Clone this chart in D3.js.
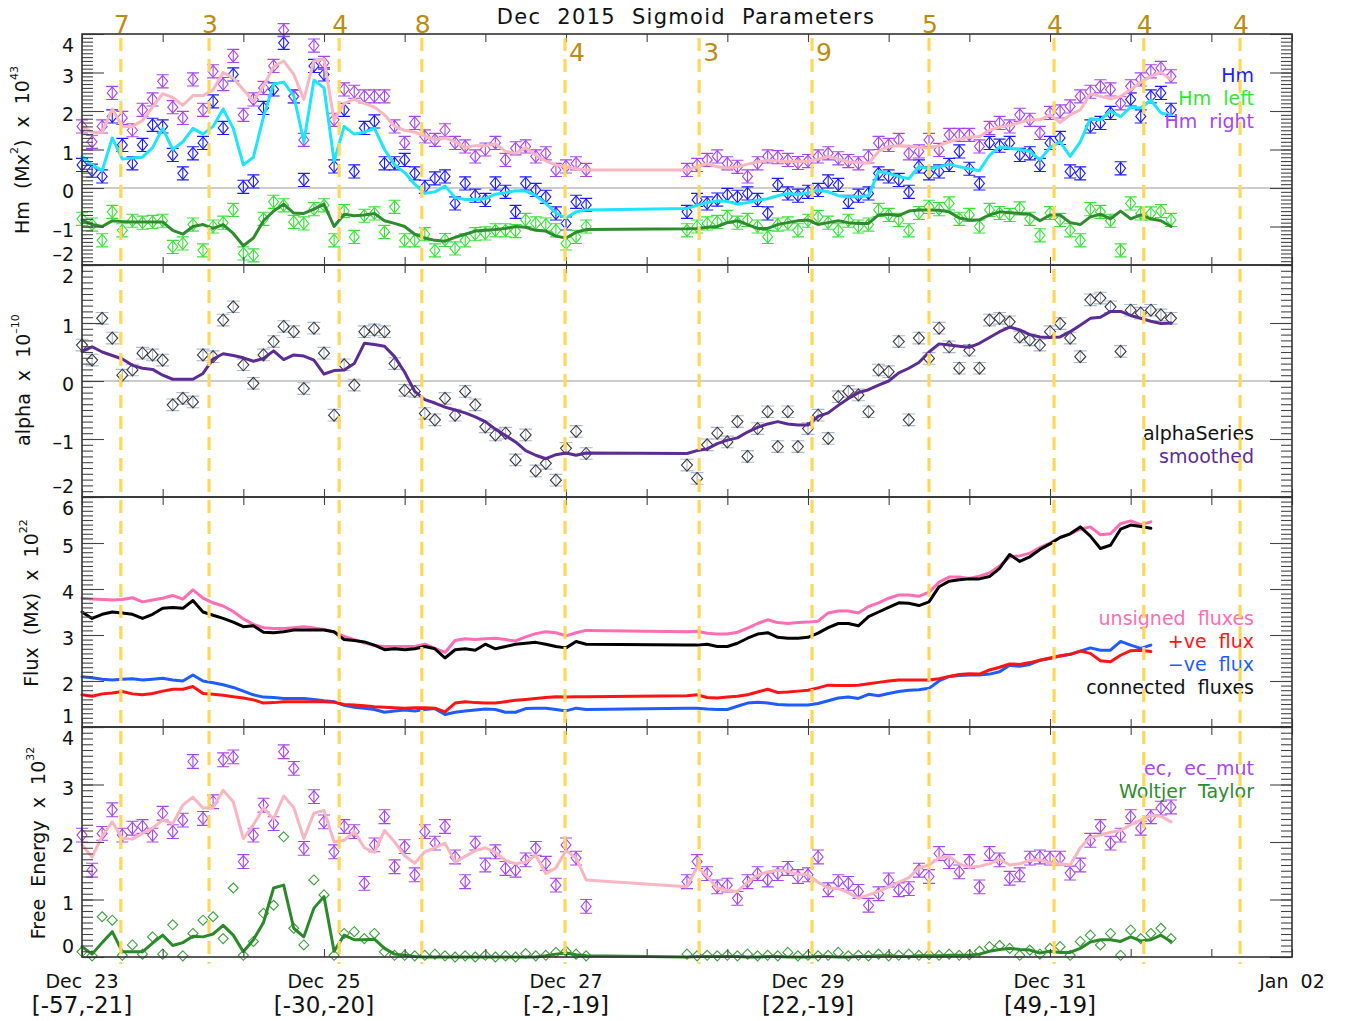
<!DOCTYPE html>
<html><head><meta charset="utf-8">
<script src="https://cdn.jsdelivr.net/npm/d3@7/dist/d3.min.js"></script>
<style>
html,body{margin:0;padding:0;background:#fff;}
svg text{font-family:"DejaVu Sans",sans-serif;}
</style></head>
<body><svg id="chart" width="1353" height="1021"></svg>
<script>
// ---------------- DATA ----------------
// hours since Dec 23 00:00 UT
const timesA = [0,2,4,6,8,10,12,14,16,18,20,22,24,26,28,30,32,34,36,38,40,42,44,46,48,50,52,54,56,58,60,62,64,66,68,70,72,74,76,78,80,82,84,86,88,90,92,94,96,98,100];
const timesB = [120,122,124,126,128,130,132,134,136,138,140,142,144,146,148,150,152,154,156,158,160,162,164,166,168,170,172,174,176,178,180,182,184,186,188,190,192,194,196,198,200,202,204,206,208,210,212,214,216];
const times = timesA.concat(timesB);

// Panel 1: Hm (x 1e43)
const hm = [0.6,0.45,0.3,1.86,1.12,0.64,1.12,1.64,1.6,0.86,0.38,0.9,1.17,2.25,1.56,2.95,0.03,0.17,2.08,2.56,3.77,2.38,0.21,3.17,2.95,0.56,2.03,0.43,1.56,1.73,0.64,0.64,0.73,0.38,0.03,0.25,0.3,-0.4,0.12,-0.2,-0.31,0.12,-0.1,-0.62,0.12,-0.05,-0.23,-0.66,-0.92,-0.36,-0.44,
  -0.62,-0.31,-0.4,-0.3,-0.18,-0.23,-0.14,-0.31,-0.66,0.08,-0.14,-0.2,-0.1,-0.05,0.17,0.08,-0.36,-0.2,-0.14,0.38,0.3,0.21,-0.1,0.56,0.38,0.43,0.6,0.95,0.5,0.12,1.17,1.1,1.17,0.86,0.9,0.6,1.17,1.3,0.43,0.38,1.6,1.69,1.95,0.51,2.3,1.86,2.38,2.47,2.03];
const hmSmooth = [0.82,0.6,0.45,1.3,0.75,0.78,0.8,1.05,1.55,1.0,1.2,1.55,1.4,1.6,2.05,1.55,0.6,0.8,1.85,2.7,2.75,2.4,1.2,2.8,2.6,0.7,1.6,1.4,1.45,1.55,1.0,0.6,0.4,0.1,-0.14,-0.1,0.05,-0.25,-0.3,-0.3,-0.28,-0.16,-0.12,-0.07,-0.08,-0.2,-0.4,-0.65,-0.78,-0.62,-0.57,
  -0.53,-0.45,-0.38,-0.33,-0.35,-0.42,-0.38,-0.32,-0.28,-0.2,-0.14,-0.17,-0.12,-0.06,-0.1,-0.2,-0.23,-0.23,-0.2,0.43,0.38,0.3,0.24,0.56,0.5,0.55,0.62,0.55,0.5,0.45,0.85,1.07,1.03,1.0,0.95,0.73,1.05,1.2,0.82,1.2,1.8,1.77,2.0,1.85,2.1,2.08,2.28,1.95,1.9];
const hmLeft = [-0.8,-0.95,-1.36,-0.62,-1.1,-0.85,-0.9,-0.88,-0.85,-1.53,-1.44,-0.95,-1.62,-1.0,-0.9,-0.57,-1.7,-1.75,-0.8,-0.36,-0.45,-0.88,-0.92,-0.55,-0.45,-1.36,-0.6,-1.27,-0.72,-0.66,-1.14,-0.49,-1.36,-1.36,-1.2,-1.62,-1.35,-1.57,-1.36,-1.2,-1.18,-1.1,-1.1,-1.12,-0.83,-0.92,-0.95,-1.1,-1.44,-1.27,-1.0,
  -1.1,-1.0,-0.92,-0.88,-0.75,-0.9,-0.83,-1.0,-1.27,-0.95,-0.92,-1.1,-0.85,-0.75,-0.9,-1.1,-0.85,-1.0,-0.95,-0.57,-0.7,-0.83,-1.1,-0.65,-0.49,-0.55,-0.4,-0.8,-0.7,-1.0,-0.57,-0.65,-0.7,-0.53,-0.8,-1.23,-0.65,-0.83,-1.1,-1.36,-0.55,-0.62,-0.85,-1.62,-0.4,-0.66,-0.66,-0.6,-0.83];
const hmLeftSmooth = [-0.83,-0.95,-1.0,-0.85,-0.87,-0.88,-0.88,-0.88,-0.88,-1.1,-1.2,-1.0,-0.95,-1.05,-0.95,-1.18,-1.5,-1.3,-0.85,-0.6,-0.42,-0.65,-0.66,-0.55,-0.42,-1.0,-0.68,-0.72,-0.7,-0.66,-0.85,-0.92,-1.0,-1.2,-1.3,-1.36,-1.38,-1.28,-1.2,-1.12,-1.1,-1.08,-1.05,-1.0,-1.02,-1.1,-1.12,-1.25,-1.3,-1.15,-1.08,
  -1.06,-1.05,-1.02,-1.0,-0.9,-0.85,-0.95,-1.05,-1.05,-0.95,-0.9,-0.85,-0.83,-0.95,-0.9,-0.85,-0.9,-0.92,-0.92,-0.7,-0.68,-0.72,-0.6,-0.57,-0.57,-0.58,-0.62,-0.78,-0.83,-0.83,-0.7,-0.62,-0.64,-0.66,-0.68,-0.85,-0.7,-0.7,-0.9,-0.95,-0.75,-0.68,-0.8,-0.6,-0.8,-0.7,-0.8,-0.85,-1.0];
const hmRight = [1.6,1.2,1.6,2.47,1.82,1.5,2.03,2.3,2.77,2.1,1.82,2.82,2.03,3.03,2.7,3.43,1.9,2.3,2.6,3.17,4.1,2.38,1.25,3.7,3.25,1.77,2.56,2.5,2.38,2.38,2.38,1.6,1.17,1.69,1.34,1.25,1.5,1.17,1.08,0.82,1.0,1.17,0.73,1.03,1.08,0.82,0.9,0.47,0.56,0.64,0.47,
  0.47,0.6,0.73,0.82,0.64,0.55,0.3,0.64,0.82,0.8,0.73,0.65,0.7,0.82,0.9,0.77,0.7,0.64,0.82,1.17,1.12,1.25,0.9,0.95,1.25,0.99,1.38,1.38,1.38,1.08,1.56,1.69,1.6,1.9,1.77,1.43,1.95,1.99,2.12,2.38,2.5,2.64,2.56,2.2,2.64,2.82,3.03,3.12,2.9];
const hmRightSmooth = [1.6,1.45,1.45,2.05,1.6,1.6,1.75,2.1,2.45,2.35,2.15,2.4,2.4,2.55,3.0,2.85,2.55,2.25,2.65,3.15,3.3,2.95,2.3,3.3,3.35,1.75,2.2,2.3,2.2,2.1,1.9,1.6,1.5,1.45,1.35,1.25,1.3,1.2,1.05,1.1,1.1,1.15,0.95,0.9,1.05,0.85,0.7,0.6,0.55,0.5,0.47,
  0.47,0.55,0.63,0.55,0.52,0.55,0.62,0.68,0.72,0.7,0.69,0.69,0.69,0.75,0.82,0.75,0.68,0.66,0.64,0.95,1.08,1.1,1.09,1.06,1.03,1.1,1.2,1.27,1.32,1.34,1.5,1.58,1.62,1.7,1.77,1.77,1.9,1.7,1.9,2.03,2.45,2.38,2.32,2.38,2.55,2.75,2.9,3.0,2.82];

// Panel 2: alpha (x 1e-10)
const alphaSeries = [0.62,0.36,1.08,0.74,0.1,0.19,0.48,0.45,0.36,-0.41,-0.3,-0.36,0.45,0.42,1.05,1.28,0.28,-0.04,0.45,0.68,0.94,0.85,-0.13,0.91,0.48,-0.59,0.28,-0.07,0.85,0.88,0.85,0.3,-0.16,-0.18,-0.56,-0.67,-0.3,-0.59,-0.18,-0.41,-0.79,-0.93,-0.9,-1.36,-0.93,-1.55,-1.42,-1.71,-1.16,-0.87,-1.25,
  -1.45,-1.68,-1.1,-0.9,-1.05,-0.7,-1.3,-0.82,-0.53,-1.13,-0.53,-1.13,-0.82,-0.59,-0.99,-0.27,-0.18,-0.24,-0.53,0.19,0.16,0.68,-0.67,0.74,0.39,0.91,0.59,0.22,0.53,0.22,1.05,1.08,1.02,0.76,0.71,0.62,0.85,0.99,0.74,0.42,1.4,1.43,1.28,0.51,1.22,1.17,1.22,1.14,1.08];
const alphaSmooth = [0.51,0.59,0.5,0.44,0.38,0.27,0.22,0.2,0.1,0.03,0.03,0.03,0.13,0.38,0.47,0.44,0.4,0.34,0.39,0.52,0.37,0.45,0.43,0.36,0.12,0.18,0.19,0.3,0.65,0.63,0.6,0.42,0.15,-0.18,-0.32,-0.38,-0.45,-0.5,-0.55,-0.62,-0.7,-0.83,-0.94,-1.05,-1.2,-1.28,-1.34,-1.27,-1.24,-1.28,-1.24,
  -1.25,-1.2,-1.17,-1.08,-1.02,-0.98,-0.88,-0.8,-0.74,-0.7,-0.74,-0.76,-0.76,-0.61,-0.55,-0.42,-0.3,-0.2,-0.15,-0.07,0.0,0.14,0.22,0.32,0.5,0.64,0.62,0.6,0.58,0.65,0.75,0.85,0.93,0.88,0.8,0.76,0.75,0.76,0.85,0.96,1.08,1.1,1.2,1.2,1.13,1.08,1.03,0.99,1.0];

// Panel 3: fluxes (x 1e22 Mx)
const unsignedFlux = [3.8,3.78,3.77,3.76,3.77,3.81,3.72,3.76,3.8,3.86,3.78,3.98,3.8,3.7,3.63,3.51,3.35,3.23,3.16,3.14,3.14,3.16,3.18,3.15,3.12,3.06,2.97,2.9,2.83,2.77,2.75,2.75,2.75,2.75,2.8,2.71,2.62,2.88,2.92,2.9,2.92,2.93,2.9,2.87,2.96,3.03,3.07,3.05,2.98,3.05,3.1,
  3.07,3.08,3.04,3.02,3.02,3.06,3.15,3.25,3.33,3.27,3.25,3.27,3.28,3.3,3.48,3.52,3.52,3.48,3.62,3.7,3.8,3.87,3.87,3.84,3.93,4.15,4.26,4.26,4.23,4.28,4.35,4.5,4.7,4.72,4.78,4.9,5.0,5.12,5.2,5.3,5.35,5.18,5.2,5.42,5.48,5.4,5.46,null,null];
const posFlux = [1.7,1.67,1.72,1.74,1.77,1.72,1.7,1.73,1.78,1.82,1.82,1.88,1.73,1.71,1.69,1.66,1.63,1.59,1.52,1.53,1.55,1.55,1.55,1.55,1.55,1.54,1.49,1.48,1.46,1.44,1.43,1.42,1.41,1.42,1.42,1.41,1.33,1.52,1.55,1.53,1.52,1.52,1.55,1.58,1.6,1.62,1.64,1.66,1.65,1.66,1.66,
  1.68,1.7,1.64,1.63,1.65,1.67,1.7,1.76,1.82,1.75,1.76,1.78,1.8,1.85,1.91,1.9,1.9,1.91,1.94,1.97,2.0,2.02,2.02,2.02,2.02,2.05,2.1,2.14,2.16,2.15,2.24,2.3,2.37,2.36,2.4,2.45,2.5,2.55,2.58,2.65,2.6,2.44,2.42,2.56,2.66,2.67,2.64,null,null];
const negFlux = [2.09,2.07,2.04,2.02,2.04,2.05,2.02,2.04,2.06,2.02,2.0,2.13,2.0,1.96,1.92,1.86,1.78,1.7,1.65,1.64,1.62,1.62,1.62,1.6,1.57,1.55,1.47,1.43,1.41,1.38,1.32,1.35,1.37,1.35,1.38,1.4,1.27,1.32,1.35,1.37,1.39,1.38,1.32,1.32,1.4,1.41,1.41,1.38,1.35,1.41,1.38,
  1.41,1.41,1.39,1.38,1.38,1.45,1.52,1.54,1.52,1.49,1.48,1.48,1.48,1.51,1.57,1.63,1.65,1.62,1.71,1.68,1.73,1.77,1.8,1.81,1.84,2.0,2.1,2.12,2.13,2.13,2.15,2.2,2.34,2.32,2.36,2.45,2.49,2.54,2.58,2.65,2.72,2.67,2.67,2.86,2.78,2.71,2.78,null,null];
const connectedFlux = [3.5,3.36,3.45,3.5,3.48,3.45,3.36,3.45,3.58,3.6,3.58,3.75,3.5,3.43,3.36,3.28,3.18,3.2,3.06,3.05,3.07,3.11,3.11,3.11,3.11,3.07,2.9,2.88,2.85,2.78,2.68,2.7,2.68,2.7,2.75,2.7,2.5,2.68,2.7,2.67,2.8,2.7,2.75,2.8,2.82,2.84,2.8,2.75,2.72,2.86,2.8,
  2.78,2.78,2.8,2.75,2.75,2.82,2.93,3.02,3.05,2.95,2.93,2.93,2.95,3.04,3.16,3.25,3.25,3.2,3.4,3.5,3.6,3.7,3.69,3.64,3.72,4.05,4.17,4.2,4.22,4.22,4.27,4.45,4.75,4.6,4.7,4.86,4.98,5.12,5.2,5.35,5.15,4.88,4.95,5.3,5.39,5.36,5.32,null,null];

// Panel 4: free energy (x 1e32)
const ecMut = [2.12,1.51,2.15,2.56,2.12,2.24,2.27,2.12,2.5,2.18,2.38,3.4,2.41,2.7,3.43,3.48,1.66,2.12,2.64,2.32,3.57,3.28,1.89,2.79,2.35,1.83,2.27,2.18,1.28,1.95,2.44,1.57,1.92,1.43,2.18,1.98,2.27,1.74,1.31,1.98,1.6,1.83,1.54,1.51,1.69,1.89,1.63,1.25,1.95,1.72,0.88,
  1.31,1.66,1.45,1.22,1.25,1.02,1.31,1.45,1.34,1.45,1.54,1.4,1.43,1.74,1.17,1.31,1.28,1.14,0.9,1.1,1.34,1.17,1.19,1.51,1.4,1.8,1.66,1.48,1.66,1.22,1.8,1.69,1.37,1.43,1.72,1.74,1.72,1.72,1.46,1.6,2.03,2.27,1.98,2.12,2.44,2.24,2.44,2.59,2.61];
const ecSmooth = [1.95,1.74,2.1,2.35,2.06,2.05,2.15,2.24,2.38,2.32,2.64,2.78,2.59,2.6,2.9,2.7,2.06,2.3,2.59,2.4,2.8,2.6,2.06,2.5,2.55,2.0,2.03,2.18,1.9,1.82,2.2,2.0,1.76,1.63,1.83,1.9,1.98,1.65,1.75,1.85,1.9,1.82,1.68,1.62,1.65,1.77,1.45,1.55,1.85,1.72,1.34,
  1.22,1.57,1.4,1.2,1.16,1.14,1.3,1.42,1.48,1.51,1.49,1.44,1.43,1.3,1.2,1.19,1.12,1.02,1.08,1.14,1.22,1.3,1.38,1.55,1.6,1.72,1.75,1.62,1.56,1.58,1.62,1.7,1.6,1.62,1.68,1.69,1.63,1.62,1.6,1.9,2.08,2.12,2.17,2.2,2.3,2.38,2.46,2.45,2.35];
const woltjerTaylor = [0.09,0.02,0.7,0.64,0.03,0.21,0.05,0.35,0.05,0.56,0.02,0.41,0.64,0.7,0.32,1.2,0.03,0.27,0.76,0.9,2.09,0.5,0.21,1.34,1.08,0.03,0.41,0.44,0.32,0.41,0.09,0.03,0.03,0.02,0.03,0.05,0.02,0,0.02,0,0.03,0,0.02,0,0.06,0.02,0.03,0.08,0.1,0.05,0.02,
  0.05,0.02,0.03,0.02,0.03,0.02,0.05,0.02,0.03,0.02,0.08,0.02,0.03,0.02,0.03,0.08,0.02,0.03,0.02,0.05,0.02,0.03,0.05,0.03,0.04,0.03,0.05,0.03,0.04,0.1,0.18,0.2,0.15,0.03,0.12,0.05,0.15,0.18,0.03,0.27,0.38,0.21,0.41,0.03,0.47,0.32,0.41,0.5,0.32];
const woltjerTaylorSmooth = [0.18,0.05,0.25,0.44,0.09,0.09,0.09,0.24,0.38,0.2,0.25,0.36,0.35,0.4,0.55,0.38,0.09,0.3,0.6,1.2,1.25,0.5,0.35,0.85,1.05,0.1,0.38,0.3,0.3,0.31,0.15,0.05,0.03,0.01,0,0,0,0,0,0,0,0,0,0,0,0,0.02,0.05,0.07,0.04,0.02,
  0,0.01,0.01,0.01,0.01,0.01,0,0,0.01,0.01,0,0,0,0.01,0.01,0,0,0.01,0.01,0.02,0.02,0.01,0.01,0.02,0.02,0.02,0.03,0.03,0.03,0.05,0.1,0.13,0.15,0.13,0.12,0.07,0.1,0.08,0.08,0.15,0.26,0.3,0.3,0.27,0.35,0.28,0.3,0.38,0.27];

// Error bar half-widths
const hmErr = 0.17, alphaErr = 0.1, ecErr = 0.12;

// Flare markers (hours since Dec 23 00:00) and counts
const flareHours  = [7.7,25.2,51,67.4,95.8,122.4,144.8,168,192.8,210.6,229.7];
const flareLabels = ["7","3","4","8","4","3","9","5","4","4","4"];
const flareInside = [false,false,false,false,true,true,true,false,false,false,false];

// Axis labels
const dayTicks   = [0,48,96,144,192,240];
const dayLabels  = ["Dec  23","Dec  25","Dec  27","Dec  29","Dec  31","Jan  02"];
const posLabels  = ["[-57,-21]","[-30,-20]","[-2,-19]","[22,-19]","[49,-19]",""];
const minorHours = [0,16,32,48,64,80,96,112,128,144,160,176,192,208,224,240];

// ---------------- DRAW ----------------
const svg = d3.select("#chart");
const X0 = 82, X1 = 1292;
const x = d3.scaleLinear().domain([0,240]).range([X0,X1]);

const panels = [
  {top:34,  bottom:265, dom:[-2,4], ticks:[-2,-1,0,1,2,3,4], zero:true},
  {top:265, bottom:497, dom:[-2,2], ticks:[-2,-1,0,1,2], zero:true},
  {top:497, bottom:727, dom:[1,6],  ticks:[1,2,3,4,5,6]},
  {top:727, bottom:957, dom:[0,4],  ticks:[0,1,2,3,4]}
];
panels.forEach(p => p.y = d3.scaleLinear().domain(p.dom).range([p.bottom,p.top]));

const pts = vals => times.map((t,i)=>({t, v: vals[i]})).filter(d => d.v !== null && d.v !== undefined);

const gData = svg.append("g");
const gAxes = svg.append("g");
const gLegend = svg.append("g");
const gDash = svg.append("g");
const gText = svg.append("g");

function diamond(cx, cy, w, h){ return `M${cx},${cy-h}L${cx+w},${cy}L${cx},${cy+h}L${cx-w},${cy}Z`; }

function drawMarkers(p, vals, color, o){
  const data = pts(vals);
  const g = gData.append("g").attr("fill","none");
  if (o.err){
    const cw = o.capW;
    g.selectAll("path.e").data(data).join("path").attr("class","e")
      .attr("stroke", o.errColor || color).attr("stroke-width",1.1)
      .attr("d", d => {
        const cx = x(d.t), y1 = p.y(d.v - o.err), y2 = p.y(d.v + o.err);
        return `M${cx},${y1}V${y2}M${cx-cw/2},${y1}h${cw}M${cx-cw/2},${y2}h${cw}`;
      });
  }
  g.selectAll("path.m").data(data).join("path").attr("class","m")
    .attr("stroke", color).attr("stroke-width", o.sw || 1.1)
    .attr("d", d => diamond(x(d.t), p.y(d.v), o.w, o.h));
}
function drawLine(p, vals, color, w){
  gData.append("path").datum(pts(vals))
    .attr("fill","none").attr("stroke",color).attr("stroke-width",w)
    .attr("stroke-linejoin","round").attr("stroke-linecap","round")
    .attr("d", d3.line().x(d => x(d.t)).y(d => p.y(d.v)));
}

// zero lines
panels.forEach(p => {
  if (p.zero) gData.append("line").attr("x1",X0).attr("x2",X1)
    .attr("y1",p.y(0)).attr("y2",p.y(0)).attr("stroke","#999").attr("stroke-width",1.2);
});

// Panel 1
const P1 = panels[0];
drawMarkers(P1, hm, "#1c1cff", {w:5, h:6, err:hmErr, capW:12});
drawMarkers(P1, hmLeft, "#3ae03a", {w:5, h:6, err:hmErr, capW:12});
drawMarkers(P1, hmRight, "#a646f0", {w:5, h:6, err:hmErr, capW:12});
drawLine(P1, hmLeftSmooth, "#2e8b2e", 3);
drawLine(P1, hmSmooth, "#1fe4ff", 3);
drawLine(P1, hmRightSmooth, "#f8b6c0", 3);

// Panel 2
const P2 = panels[1];
drawMarkers(P2, alphaSeries, "#3a3a3a", {w:5.5, h:6, err:alphaErr, capW:13, errColor:"#a9b9cf"});
drawLine(P2, alphaSmooth, "#5b2c94", 3);

// Panel 3
const P3 = panels[2];
drawLine(P3, unsignedFlux, "#ff6db4", 3);
drawLine(P3, connectedFlux, "#000000", 3);
drawLine(P3, negFlux, "#1f5cff", 3);
drawLine(P3, posFlux, "#ff1414", 3);

// Panel 4
const P4 = panels[3];
drawMarkers(P4, ecMut, "#a646f0", {w:5, h:6, err:ecErr, capW:12});
drawLine(P4, ecSmooth, "#f8b6c0", 3);
drawMarkers(P4, woltjerTaylor, "#3f9e3f", {w:5, h:5});
drawLine(P4, woltjerTaylorSmooth, "#2a8a2a", 3);

// Axes: frame, inward ticks on all sides
panels.forEach((p,i) => {
  const minorVals = d3.range(p.dom[0]*10, p.dom[1]*10+1).map(v => v/10);
  const ax = [
    {gen: d3.axisRight(p.y).tickValues(minorVals).tickSize(11), tr:`translate(${X0},0)`},
    {gen: d3.axisRight(p.y).tickValues(p.ticks).tickSize(22), tr:`translate(${X0},0)`},
    {gen: d3.axisLeft(p.y).tickValues(minorVals).tickSize(11), tr:`translate(${X1},0)`},
    {gen: d3.axisLeft(p.y).tickValues(p.ticks).tickSize(22), tr:`translate(${X1},0)`},
    {gen: d3.axisBottom(x).tickValues(minorHours).tickSize(8), tr:`translate(0,${p.top})`},
    {gen: d3.axisTop(x).tickValues(minorHours).tickSize(8), tr:`translate(0,${p.bottom})`}
  ];
  ax.forEach(a => {
    const g = gAxes.append("g").attr("transform", a.tr).call(a.gen.tickFormat(""));
    g.select(".domain").remove();
    g.selectAll(".tick line").attr("stroke","#444").attr("stroke-width",1.1);
  });
  gAxes.append("rect").attr("x",X0).attr("y",p.top).attr("width",X1-X0).attr("height",p.bottom-p.top)
    .attr("fill","none").attr("stroke","#333").attr("stroke-width",1.6);
  // y tick labels
  p.ticks.forEach((v,k) => {
    let off = 3;
    if (k === p.ticks.length-1) off = 11;
    if (k === 0) off = -11;
    gText.append("text").attr("x",74).attr("y",p.y(v)+off)
      .attr("text-anchor","end").attr("dominant-baseline","central")
      .attr("font-size",19).attr("fill","#111")
      .text(v < 0 ? "–" + Math.abs(v) : String(v));
  });
});

// Y-axis titles
function yTitle(cx, cy, parts){
  const t = gText.append("text").attr("transform",`translate(${cx},${cy}) rotate(-90)`)
    .attr("text-anchor","middle").attr("dominant-baseline","central")
    .attr("font-size",19).attr("fill","#111").style("white-space","pre");
  parts.forEach(pt => {
    const s = t.append("tspan").text(pt[0]);
    if (pt[1] === "sup") s.attr("font-size",11).attr("dy",-8);
    if (pt[1] === "base") s.attr("dy",8);
  });
}
yTitle(22,150,[["Hm  (Mx"],["2","sup"],[")  x  10","base"],["43","sup"]]);
yTitle(23,380,[["alpha  x  10"],["–10","sup"]]);
yTitle(31,603,[["Flux  (Mx)  x  10"],["22","sup"]]);
yTitle(38,843,[["Free  Energy  x  10"],["32","sup"]]);

// Legends
function legend(items, yStart){
  items.forEach((it,i) => {
    gLegend.append("text").attr("x",1254).attr("y",yStart + i*23)
      .attr("text-anchor","end").attr("dominant-baseline","central")
      .attr("font-size",19).attr("fill",it[1]).style("white-space","pre").text(it[0]);
  });
}
legend([["Hm","#1c1cff"],["Hm  left","#2ee82e"],["Hm  right","#a646f0"]], 75);
legend([["alphaSeries","#111"],["smoothed","#5b2c94"]], 433);
legend([["unsigned  fluxes","#ff6db4"],["+ve  flux","#ff1414"],["−ve  flux","#1f5cff"],["connected  fluxes","#111"]], 618);
legend([["ec,  ec_mut","#a646f0"],["Woltjer  Taylor","#2e8b2e"]], 768);

// Flare dashed lines
gDash.selectAll("line").data(flareHours).join("line")
  .attr("x1", d => x(d)).attr("x2", d => x(d))
  .attr("y1", 38).attr("y2", 964)
  .attr("stroke","#ffd75c").attr("stroke-width",3.2).attr("stroke-dasharray","13,8");
flareHours.forEach((h,i) => {
  const inside = flareInside[i];
  gText.append("text").attr("x", x(h) + (inside ? 12 : 1)).attr("y", inside ? 52 : 24)
    .attr("text-anchor","middle").attr("dominant-baseline","central")
    .attr("font-family","Liberation Serif, serif").attr("font-size",25)
    .attr("fill","#bc8c10").text(flareLabels[i]);
});

// Title
gText.append("text").attr("x",686).attr("y",17).attr("text-anchor","middle").attr("dominant-baseline","central")
  .attr("font-size",21).attr("letter-spacing",1.3).attr("fill","#111").style("white-space","pre")
  .text("Dec  2015  Sigmoid  Parameters");

// Bottom date labels
dayTicks.forEach((h,i) => {
  gText.append("text").attr("x",x(h)).attr("y",981).attr("text-anchor","middle").attr("dominant-baseline","central")
    .attr("font-size",19).attr("fill","#111").style("white-space","pre").text(dayLabels[i]);
  if (posLabels[i]) gText.append("text").attr("x",x(h)).attr("y",1005).attr("text-anchor","middle").attr("dominant-baseline","central")
    .attr("font-family","Liberation Serif, serif").attr("font-size",23).attr("fill","#111").text(posLabels[i]);
});
</script></body></html>
